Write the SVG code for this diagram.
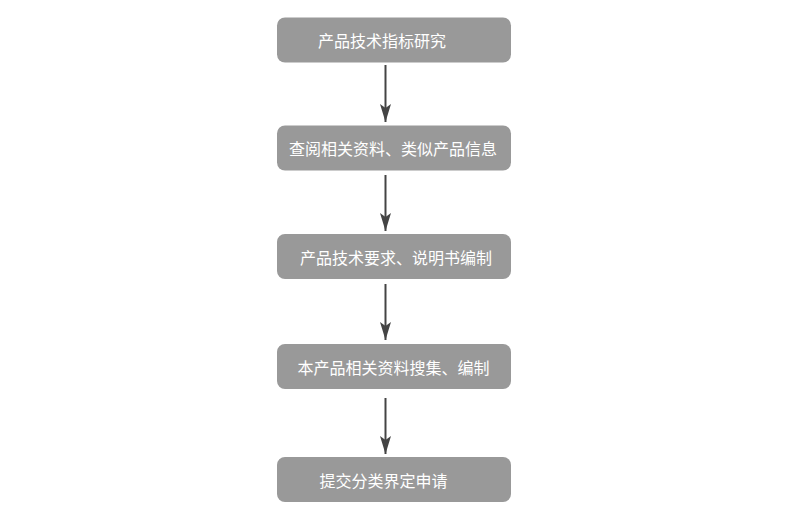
<svg xmlns="http://www.w3.org/2000/svg" width="800" height="505" viewBox="0 0 800 505">
<style>
.box{fill:#999999;}
.lbl{fill:#ffffff;font-family:"Noto Sans CJK SC","Microsoft YaHei",sans-serif;font-size:16px;}
.conn{stroke:#444444;stroke-width:2;fill:none;marker-end:url(#ah);}
</style>
<defs>
<marker id="ah" markerUnits="userSpaceOnUse" markerWidth="20" markerHeight="12" refX="18" refY="5.5" orient="auto">
<path d="M0,0 L18,5.5 L0,11 L4,5.5 Z" fill="#444444"/>
</marker>
</defs>
<rect width="800" height="505" fill="#ffffff"/>
<g id="connectors">
<line class="conn" x1="385.5" y1="65" x2="385.5" y2="122"/>
<line class="conn" x1="385.5" y1="175" x2="385.5" y2="231"/>
<line class="conn" x1="385.5" y1="284" x2="385.5" y2="340"/>
<line class="conn" x1="385.5" y1="398" x2="385.5" y2="454"/>
</g>
<g id="n1"><rect class="box" x="277" y="17.5" width="234" height="45" rx="8"/><text class="lbl" x="318" y="47">产品技术指标研究</text></g>
<g id="n2"><rect class="box" x="277" y="125.5" width="234" height="45" rx="8"/><text class="lbl" x="289" y="155">查阅相关资料、类似产品信息</text></g>
<g id="n3"><rect class="box" x="277" y="234" width="234" height="45" rx="8"/><text class="lbl" x="300" y="263.5">产品技术要求、说明书编制</text></g>
<g id="n4"><rect class="box" x="277" y="344" width="234" height="45" rx="8"/><text class="lbl" x="297.5" y="373.5">本产品相关资料搜集、编制</text></g>
<g id="n5"><rect class="box" x="277" y="457" width="234" height="45" rx="8"/><text class="lbl" x="319.5" y="486.5">提交分类界定申请</text></g>
</svg>
